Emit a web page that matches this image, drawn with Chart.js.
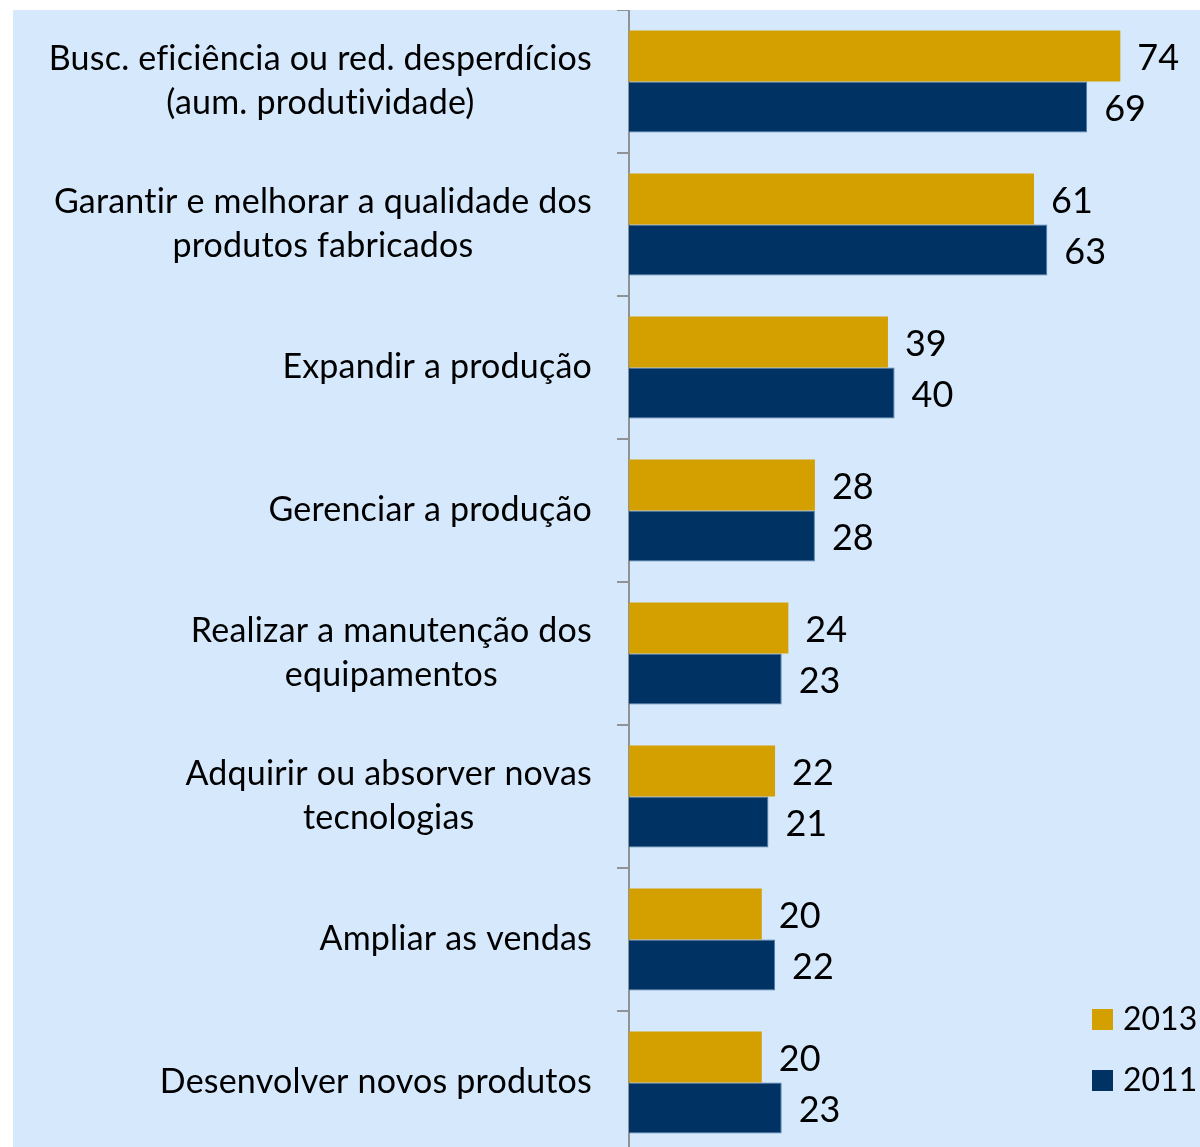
<!DOCTYPE html>
<html>
<head>
<meta charset="utf-8">
<script src="https://cdn.jsdelivr.net/npm/chart.js@4.4.1/dist/chart.umd.min.js"></script>
<style>
  html, body { margin: 0; padding: 0; background: #ffffff; overflow: hidden; width: 1200px; height: 1147px; }
  #wrap { position: absolute; left: 13px; top: 10px; width: 1187px; height: 1144px; }
  canvas { background: #D5E8FC; display: block; }
</style>
</head>
<body>
<div id="wrap"><canvas id="c" width="1187" height="1144"></canvas></div>
<script>
const categories = [
  ["Busc. eficiência ou red. desperdícios", "(aum. produtividade)"],
  ["Garantir e melhorar a qualidade dos", "produtos fabricados"],
  ["Expandir a produção"],
  ["Gerenciar a produção"],
  ["Realizar a manutenção dos", "equipamentos"],
  ["Adquirir ou absorver novas", "tecnologias"],
  ["Ampliar as vendas"],
  ["Desenvolver novos produtos"]
];
const seriesNames = ["2013", "2011"];
const values2013 = [74, 61, 39, 28, 24, 22, 20, 20];
const values2011 = [69, 63, 40, 28, 23, 21, 22, 23];

const GOLD = '#D3A000';
const NAVY = '#003263';
const LABEL_FONT = '34px Lato';
const VALUE_FONT = '36px Lato';
const LEGEND_FONT = '32px Lato';

const labelPlugin = {
  id: 'customLabels',
  afterDatasetsDraw(chart) {
    const ctx = chart.ctx;
    // value labels
    ctx.save();
    ctx.font = VALUE_FONT;
    ctx.fillStyle = '#000';
    ctx.textAlign = 'left';
    ctx.textBaseline = 'middle';
    chart.data.datasets.forEach((ds, di) => {
      const meta = chart.getDatasetMeta(di);
      meta.data.forEach((bar, i) => {
        ctx.fillText(String(ds.data[i]), bar.x + 17, bar.y + 2);
      });
    });
    ctx.restore();

    // category labels: block right-aligned, lines centered within block
    const ys = chart.scales.y;
    ctx.save();
    ctx.font = LABEL_FONT;
    if ('letterSpacing' in ctx) ctx.letterSpacing = '0.2px';
    ctx.fillStyle = '#000';
    ctx.textAlign = 'center';
    ctx.textBaseline = 'middle';
    const rightEdge = ys.right - 37;
    const lh = 44;
    chart.data.labels.forEach((lines, i) => {
      const cy = ys.getPixelForTick(i);
      const maxW = Math.max(...lines.map(l => ctx.measureText(l).width));
      const cx = rightEdge - maxW / 2;
      const n = lines.length;
      lines.forEach((l, k) => {
        ctx.fillText(l, cx, cy + (k - (n - 1) / 2) * lh);
      });
    });
    ctx.restore();

    // legend
    ctx.save();
    ctx.font = LEGEND_FONT;
    ctx.textAlign = 'left';
    ctx.textBaseline = 'middle';
    chart.data.datasets.forEach((ds, di) => {
      const y0 = 999 + di * 61;
      ctx.fillStyle = ds.backgroundColor;
      ctx.fillRect(1079, y0, 21, 21);
      ctx.fillStyle = '#000';
      ctx.fillText(ds.label, 1110, y0 + 11);
    });
    ctx.restore();
  }
};

new Chart(document.getElementById('c'), {
  type: 'bar',
  data: {
    labels: categories,
    datasets: [
      { label: seriesNames[0], data: values2013, backgroundColor: GOLD, categoryPercentage: 0.715, barPercentage: 1.0 },
      { label: seriesNames[1], data: values2011, backgroundColor: NAVY, borderColor: '#4F7BA8', borderWidth: 1, categoryPercentage: 0.715, barPercentage: 1.0 }
    ]
  },
  options: {
    indexAxis: 'y',
    responsive: false,
    animation: false,
    layout: { padding: 0 },
    plugins: { legend: { display: false }, tooltip: { enabled: false }, title: { display: false } },
    scales: {
      x: { display: false, min: 0, max: 86 },
      y: {
        position: 'left',
        afterFit(scale) { scale.width = 616; },
        ticks: { display: false },
        grid: { display: true, offset: true, drawOnChartArea: false, drawTicks: true, tickLength: 12, color: '#8F9296', lineWidth: 2 },
        border: { display: true, color: '#8F9296', width: 2 }
      }
    }
  },
  plugins: [labelPlugin]
});
</script>
</body>
</html>
